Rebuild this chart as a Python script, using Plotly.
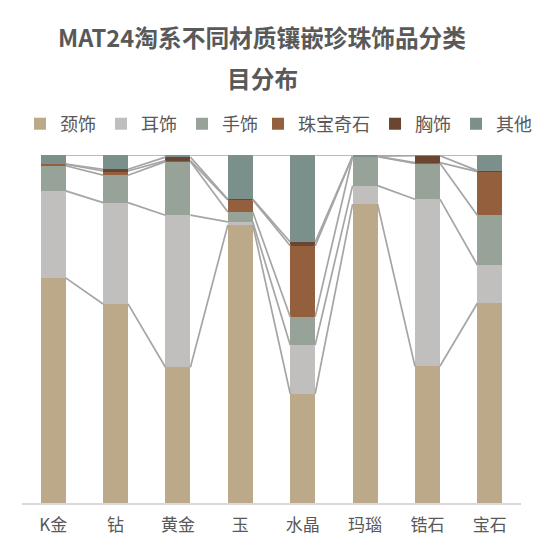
import plotly.graph_objects as go

categories = ["K金", "钻", "黄金", "玉", "水晶", "玛瑙", "锆石", "宝石"]
series_names = ["颈饰", "耳饰", "手饰", "珠宝奇石", "胸饰", "其他"]

neck = [64.7, 57.2, 39.0, 79.9, 31.4, 85.9, 39.3, 57.4]
ear = [25.0, 29.1, 43.7, 0.9, 14.0, 5.3, 48.0, 11.0]
hand = [7.2, 7.9, 15.4, 2.8, 8.1, 8.3, 10.3, 14.3]
gem = [0.5, 1.2, 0.3, 3.5, 20.4, 0.1, 0.2, 12.5]
brooch = [0.0, 0.5, 1.0, 0.2, 1.1, 0.1, 2.0, 0.3]
other = [2.6, 4.1, 0.6, 12.7, 25.0, 0.3, 0.2, 4.5]

colors = ["#BCA98A", "#C0BFBE", "#97A299", "#935F3D", "#6A4532", "#7B8F8B"]

series = [neck, ear, hand, gem, brooch, other]
n = len(categories)
totals = [sum(s[i] for s in series) for i in range(n)]
pct = [[s[i] / totals[i] * 100 for i in range(n)] for s in series]

bar_w = 0.4
xs = list(range(n))

fig = go.Figure()

# series lines (cumulative tops)
cum = [0.0] * n
for k, s in enumerate(pct):
    cum = [cum[i] + s[i] for i in range(n)]
    lx, ly = [], []
    for i in range(n - 1):
        lx += [i + bar_w / 2, i + 1 - bar_w / 2, None]
        ly += [cum[i], cum[i + 1], None]
    fig.add_trace(go.Scatter(x=lx, y=ly, mode="lines",
                             line=dict(color="#A5A5A5", width=1.7),
                             showlegend=False, hoverinfo="skip"))

for k, (name, s, c) in enumerate(zip(series_names, pct, colors)):
    fig.add_trace(go.Bar(x=xs, y=s, name=name, width=bar_w,
                         legend="legend" if k < 3 else "legend2",
                         marker=dict(color=c, line=dict(width=0))))

leg_common = dict(orientation="h", yanchor="middle", y=1.089,
                  font=dict(size=18, color="#595959"), traceorder="normal",
                  itemclick=False, borderwidth=0, bgcolor="rgba(0,0,0,0)")

fig.update_layout(
    barmode="stack",
    width=544, height=556,
    margin=dict(l=22, r=23, t=155, b=53, autoexpand=False),
    plot_bgcolor="white", paper_bgcolor="white",
    font=dict(family="Noto Sans CJK SC", color="#595959"),
    showlegend=True,
    legend=dict(x=-0.004, xanchor="left", **leg_common),
    legend2=dict(x=-0.02 + 246 / 499, xanchor="left", **leg_common),
    annotations=[
        dict(text="<b>MAT24淘系不同材质镶嵌珍珠饰品分类</b>", xref="paper", yref="paper",
             x=0.481, y=1.339, xanchor="center", yanchor="middle", showarrow=False,
             font=dict(size=23.7, color="#595959")),
        dict(text="<b>目分布</b>", xref="paper", yref="paper",
             x=0.481, y=1.221, xanchor="center", yanchor="middle", showarrow=False,
             font=dict(size=23.7, color="#595959")),
    ],
)
fig.update_xaxes(range=[-0.5, n - 0.5], tickvals=xs, ticktext=categories,
                 showgrid=False, zeroline=False, showline=True,
                 linecolor="#D9D9D9", linewidth=1.5, ticks="",
                 ticklabelstandoff=6,
                 tickfont=dict(size=17, color="#595959"))
fig.update_yaxes(range=[0, 100], showgrid=False, zeroline=False,
                 showticklabels=False, showline=False)

fig.write_html("out.html", config={"displayModeBar": False},
               post_script="document.body.style.margin='0';document.body.style.padding='0';")
